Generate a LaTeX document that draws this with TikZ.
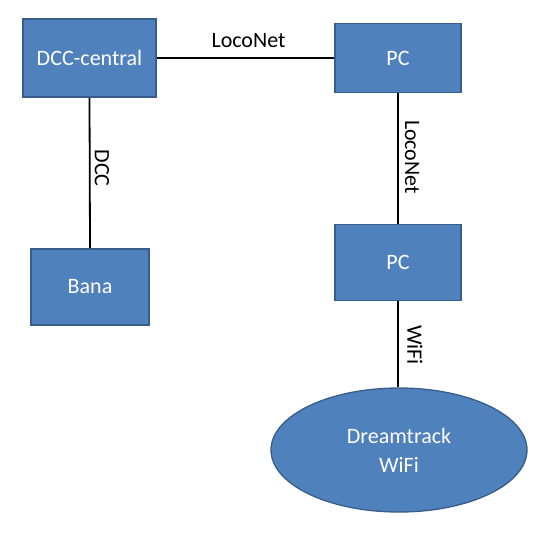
\documentclass[tikz,border=0pt]{standalone}
\usepackage{fontspec}
\setmainfont{Carlito}
\usetikzlibrary{shapes.geometric}
\definecolor{boxfill}{HTML}{4F81BD}
\definecolor{boxline}{HTML}{385D8A}
\begin{document}
\begin{tikzpicture}[x=1pt,y=-1pt,
  box/.style={draw=boxline,fill=boxfill,line width=1.8pt,text=white,font=\fontsize{22}{26}\selectfont,inner sep=0pt,anchor=center},
  ell/.style={ellipse,draw=boxline,fill=boxfill,line width=1.3pt,text=white,font=\fontsize{22}{29}\selectfont,align=center,inner sep=0pt,minimum width=256pt,minimum height=124pt},
  conn/.style={draw=black,line width=1.8pt},
  lbl/.style={font=\fontsize{22}{26}\selectfont,inner sep=0pt}]
\useasboundingbox (0,0) rectangle (553,542);
\node[box,minimum width=133pt,minimum height=78pt] (dcc) at (89.5,58) {DCC-central};
\node[box,minimum width=126pt,minimum height=69pt] (pc1) at (398,58) {PC};
\node[box,minimum width=118pt,minimum height=76pt] (bana) at (90,287) {Bana};
\node[box,minimum width=126pt,minimum height=76pt] (pc2) at (398,262.5) {PC};
\node[ell] (dt) at (399,450) {Dreamtrack\\WiFi};
\draw[conn] (dcc.east) -- node[lbl,above=9pt,xshift=3pt] (l1) {LocoNet} (pc1.west);
\draw[conn] (dcc.south) -- (bana.north);
\draw[conn] (pc1.south) -- (pc2.north);
\draw[conn,line width=1.4pt] (pc2.south) -- (pc2.south |- dt.north);
\node[lbl,rotate=-90] (l2) at (102,168) {DCC};
\node[lbl,rotate=-90] (l3) at (412,157) {LocoNet};
\node[lbl,rotate=-90] (l4) at (415,345) {WiFi};
\end{tikzpicture}
\end{document}
